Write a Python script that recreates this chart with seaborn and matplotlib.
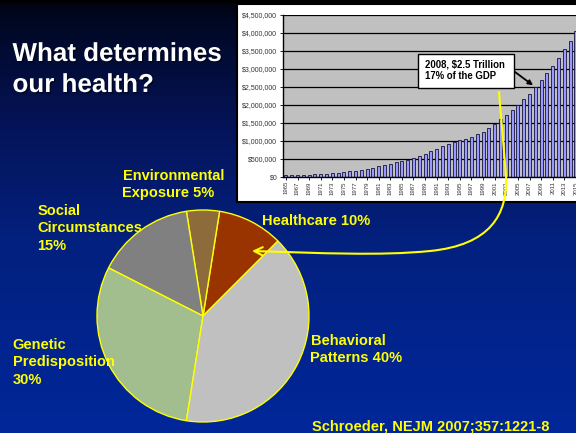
import numpy as np
import pandas as pd
import matplotlib
matplotlib.use("Agg")
import matplotlib.pyplot as plt
import seaborn as sns
from matplotlib.colors import LinearSegmentedColormap
from matplotlib.patches import Rectangle, FancyArrowPatch
from matplotlib.path import Path
from matplotlib.ticker import FuncFormatter, MultipleLocator
import matplotlib.patheffects as pe

# ---------------- data ----------------
years = list(range(1965, 2016))
spending = [
    42000, 46000, 52000, 58000, 65000, 75000, 83000, 93000, 103000, 117000,
    133000, 153000, 174000, 196000, 222000, 255000, 295000, 332000, 368000, 406000,
    442000, 476000, 517000, 575000, 640000, 714000, 780000, 855000, 913000, 962000,
    1017000, 1069000, 1125000, 1185000, 1255000, 1355000, 1486000, 1614000, 1735000, 1870000,
    2010000, 2160000, 2310000, 2500000, 2690000, 2885000, 3085000, 3310000, 3550000, 3790000,
    4050000,
]
callout_year = 2008
callout_lines = ["2008, $2.5 Trillion", "17% of the GDP"]

title_lines = ["What determines", "our health?"]
factors = ["Healthcare", "Environmental Exposure", "Social Circumstances",
           "Genetic Predisposition", "Behavioral Patterns"]
shares = [10, 5, 15, 30, 40]
factor_colors = ["#993300", "#8e6b3a", "#808080", "#a2bd8e", "#c0c0c0"]
factor_label_lines = [
    ["Healthcare 10%"],
    ["Environmental", "Exposure 5%"],
    ["Social", "Circumstances", "15%"],
    ["Genetic", "Predisposition", "30%"],
    ["Behavioral", "Patterns 40%"],
]
source_text = "Schroeder, NEJM 2007;357:1221-8"

# ---------------- figure ----------------
sns.set_theme(style="white")
plt.rcParams["font.family"] = ["Liberation Sans", "DejaVu Sans"]

W, H = 576, 433
fig = plt.figure(figsize=(W / 100, H / 100), dpi=100)


def fx(x):
    return x / W


def fy(y):
    return 1 - y / H


# background gradient
bg = fig.add_axes([0, 0, 1, 1], zorder=-3)
cmap = LinearSegmentedColormap.from_list(
    "bg", [(0, "#00030f"), (0.05, "#010824"), (0.3, "#05145a"),
           (0.55, "#03207e"), (1, "#00279a")])
grad = np.linspace(0, 1, 256).reshape(-1, 1)
bg.imshow(grad, aspect="auto", cmap=cmap, extent=[0, 1, 0, 1], origin="upper")
bg.set_xlim(0, 1)
bg.set_ylim(0, 1)
bg.axis("off")

fig.add_artist(Rectangle((0, fy(3)), 1, fy(0) - fy(3), transform=fig.transFigure,
                         facecolor="black", edgecolor="none", zorder=-2))
# white chart panel
fig.add_artist(Rectangle((fx(237), fy(202)), fx(579) - fx(237), fy(4) - fy(202),
                         transform=fig.transFigure, facecolor="white",
                         edgecolor="black", lw=1.5, zorder=-1))

# ---------------- bar chart ----------------
slot = 5.8
ax = fig.add_axes([fx(283), fy(177), len(years) * slot / W, (177 - 15) / H])
df = pd.DataFrame({"year": [str(y) for y in years], "spending": spending})
sns.barplot(data=df, x="year", y="spending", color="#9999ff", saturation=1,
            width=0.55, edgecolor="#14143c", linewidth=0.6, ax=ax)
ax.set_facecolor("#c0c0c0")
ax.set_ylim(0, 4.5e6)
ax.set_xlim(-0.5, len(years) - 0.5)
ax.yaxis.set_major_locator(MultipleLocator(500000))
ax.yaxis.set_major_formatter(FuncFormatter(lambda v, p: f"${v:,.0f}"))
ax.grid(axis="y", color="black", lw=0.9)
ax.set_axisbelow(True)
ax.set_xticks(range(0, len(years), 2))
ax.set_xticklabels([str(y) for y in years[::2]], rotation=90)
ax.tick_params(axis="x", labelsize=4.3, length=2, pad=1, bottom=True,
               labelcolor="#333333", color="black", width=0.6)
ax.tick_params(axis="y", labelsize=5, length=2, pad=2, left=True,
               labelcolor="#333333", color="black", width=0.6)
ax.set_xlabel("")
ax.set_ylabel("")
for s in ["top", "right"]:
    ax.spines[s].set_visible(False)
for s in ["left", "bottom"]:
    ax.spines[s].set_color("black")
    ax.spines[s].set_linewidth(1.0)

# callout
ci = years.index(callout_year)
ax.annotate("", xy=(ci, spending[ci]), xycoords="data",
            xytext=(fx(515), fy(72)), textcoords="figure fraction",
            arrowprops=dict(arrowstyle="-|>", color="black", lw=1.3,
                            shrinkA=0, shrinkB=2, mutation_scale=7))
fig.add_artist(Rectangle((fx(418), fy(88)), fx(514) - fx(418), fy(54) - fy(88),
                         transform=fig.transFigure, facecolor="white",
                         edgecolor="black", lw=1.0, zorder=4))
for i, line in enumerate(callout_lines):
    fig.text(fx(425), fy(67.5 + i * 11.5), line, fontsize=6.9, fontweight="bold",
             color="black", ha="left", va="baseline", zorder=5)

# ---------------- pie ----------------
r = 106
pax = fig.add_axes([fx(203 - r), fy(316 + r), 2 * r / W, 2 * r / H])
wedges, _ = pax.pie(shares, colors=factor_colors, startangle=45, counterclock=True,
                    radius=1, wedgeprops=dict(edgecolor="#ffff00", linewidth=1.0))
for w in wedges:
    w.set_clip_on(False)
pax.set_xlim(-1, 1)
pax.set_ylim(-1, 1)
pax.axis("off")

# ---------------- texts ----------------
title_fx = [pe.withSimplePatchShadow(offset=(1, -1), shadow_rgbFace="black", alpha=0.5)]
for i, line in enumerate(title_lines):
    fig.text(fx(12.5), fy(61 + i * 31), line, fontsize=18.7, fontweight="bold",
             color="white", ha="left", va="baseline", path_effects=title_fx)

label_pos = [(261.5, 225), (122.5, 180), (37.5, 215), (12.5, 349), (310.5, 345)]
for lines, (x0, y0) in zip(factor_label_lines, label_pos):
    for j, line in enumerate(lines):
        fig.text(fx(x0), fy(y0 + j * 17.3), line, fontsize=10.5, fontweight="bold",
                 color="#ffff00", ha="left", va="baseline", zorder=5)

fig.text(fx(312.5), fy(430.5), source_text, fontsize=10.5, fontweight="bold",
         color="#ffff00", ha="left", va="baseline")

# ---------------- yellow connector ----------------
pts = [(499, 92), (506, 175), (508, 215), (490, 245), (430, 251),
       (380, 256), (320, 253), (252, 251)]
codes = [Path.MOVETO, Path.LINETO, Path.CURVE4, Path.CURVE4, Path.CURVE4,
         Path.CURVE4, Path.CURVE4, Path.CURVE4]
path = Path([(fx(x), fy(y)) for x, y in pts], codes)
fig.add_artist(FancyArrowPatch(path=path, arrowstyle="->,head_length=0.6,head_width=0.3",
                               mutation_scale=10, color="#ffff00", lw=1.5,
                               transform=fig.transFigure, zorder=6))

fig.savefig("out.png", dpi=100)
